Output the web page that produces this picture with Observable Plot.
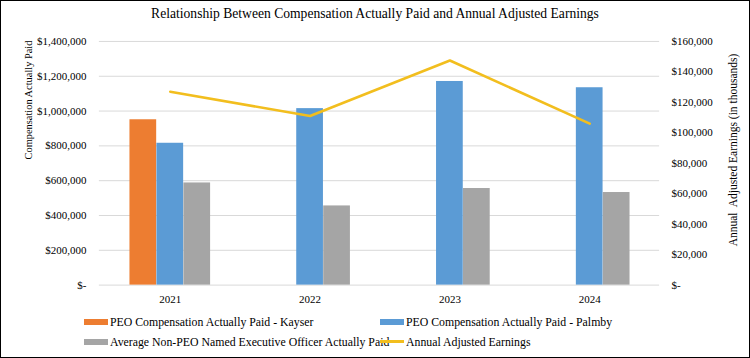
<!DOCTYPE html>
<html><head><meta charset="utf-8">
<script src="https://cdn.jsdelivr.net/npm/d3@7"></script>
<script src="https://cdn.jsdelivr.net/npm/@observablehq/plot@0.6"></script>
<style>
body{margin:0;background:#fff;}
#wrap{position:relative;width:750px;height:358px;box-sizing:border-box;border:1px solid #000;overflow:hidden;font-family:"Liberation Serif","Times New Roman",serif;color:#000;}
#chart{position:absolute;left:-1px;top:-1px;}
.abs{position:absolute;white-space:nowrap;}
.sw{position:absolute;width:24px;height:6px;}
.lg{position:absolute;font-size:11.8px;line-height:16px;white-space:nowrap;}
</style></head>
<body>
<div id="wrap">
<div id="chart"></div>
<div class="abs" style="left:0;width:748px;top:5px;text-align:center;font-size:13.6px;line-height:16px;">Relationship Between Compensation Actually Paid and Annual Adjusted Earnings</div>
<div class="abs" style="left:27px;top:99px;font-size:10.4px;transform:translate(-50%,-50%) rotate(-90deg);">Compensation Actually Paid</div>
<div class="abs" style="left:732px;top:149px;font-size:11.5px;transform:translate(-50%,-50%) rotate(-90deg);">Annual&nbsp; Adjusted Earnings (in thousands)</div>
<div id="legend"></div>
</div>
<script>
const years = ["2021","2022","2023","2024"];
const kayser = [950000, null, null, null];
const palmby = [815000, 1014000, 1170000, 1134000];
const nonPeo = [587000, 455000, 555000, 532000];
const earnings = [127000, 111000, 147500, 106000];
const leftTicks = [0,200000,400000,600000,800000,1000000,1200000,1400000];
const rightTicks = [0,20000,40000,60000,80000,100000,120000,140000,160000];
const seriesNames = ["PEO Compensation Actually Paid - Kayser","PEO Compensation Actually Paid - Palmby","Average Non-PEO Named Executive Officer Actually Paid","Annual Adjusted Earnings"];
const colors = ["#ED7D31","#5B9BD5","#A5A5A5","#F2BE1E"];

const leftMax = 1400000, rightMax = 160000, k = leftMax/rightMax;
const fmt = d3.format(",");
const money = v => v === 0 ? "$-" : "$" + fmt(v);

const rows = (vals) => years.map((y,i)=>({year:y, value:vals[i]})).filter(d=>d.value!=null);
const lineRows = years.map((y,i)=>({year:y, value:earnings[i]*k}));

const band = (660-99)/years.length, bw = 27, outer = (band - 3*bw)/2;
const inset = j => ({insetLeft: outer + j*bw, insetRight: band - outer - (j+1)*bw});

const plot = Plot.plot({
  width: 750, height: 310,
  marginLeft: 99, marginRight: 90, marginTop: 41, marginBottom: 25,
  style: {fontFamily: '"Liberation Serif","Times New Roman",serif', fontSize: "11px", color:"#000", background:"transparent"},
  x: {type:"band", domain: years, padding: 0, label: null},
  y: {domain: [0, leftMax], label: null},
  marks: [
    Plot.ruleY(leftTicks, {stroke:"#d9d9d9", strokeWidth:1}),
    Plot.axisX({tickSize:0, tickPadding:10, label:null, fontSize:11}),
    Plot.axisY({ticks:leftTicks, tickFormat: money, tickSize:0, tickPadding:13, label:null, anchor:"left", fontSize:11}),
    Plot.axisY({ticks:rightTicks.map(v=>v*k), tickFormat: v=>money(Math.round(v/k)), tickSize:0, tickPadding:12, label:null, anchor:"right", fontSize:11}),
    Plot.barY(rows(kayser), {x:"year", y:"value", fill:colors[0], ...inset(0)}),
    Plot.barY(rows(palmby), {x:"year", y:"value", fill:colors[1], ...inset(1)}),
    Plot.barY(rows(nonPeo), {x:"year", y:"value", fill:colors[2], ...inset(2)}),
    Plot.lineY(lineRows, {x:"year", y:"value", stroke:colors[3], strokeWidth:2.6, curve:"linear"})
  ]
});
document.getElementById("chart").appendChild(plot);

const leg = document.getElementById("legend");
const pos = [[83,321],[379,321],[83,341],[379,341]];
seriesNames.forEach((n,i)=>{
  const [x,y] = pos[i];
  const s = document.createElement("div"); s.className="sw";
  s.style.left = x+"px"; s.style.top = (y-3)+"px"; s.style.background = colors[i];
  if(i===3){s.style.height="3px"; s.style.top=(y-2)+"px";}
  leg.appendChild(s);
  const t = document.createElement("div"); t.className="lg";
  t.style.left = (x+26)+"px"; t.style.top = (y-8)+"px"; t.textContent = n;
  leg.appendChild(t);
});
</script>
</body></html>
